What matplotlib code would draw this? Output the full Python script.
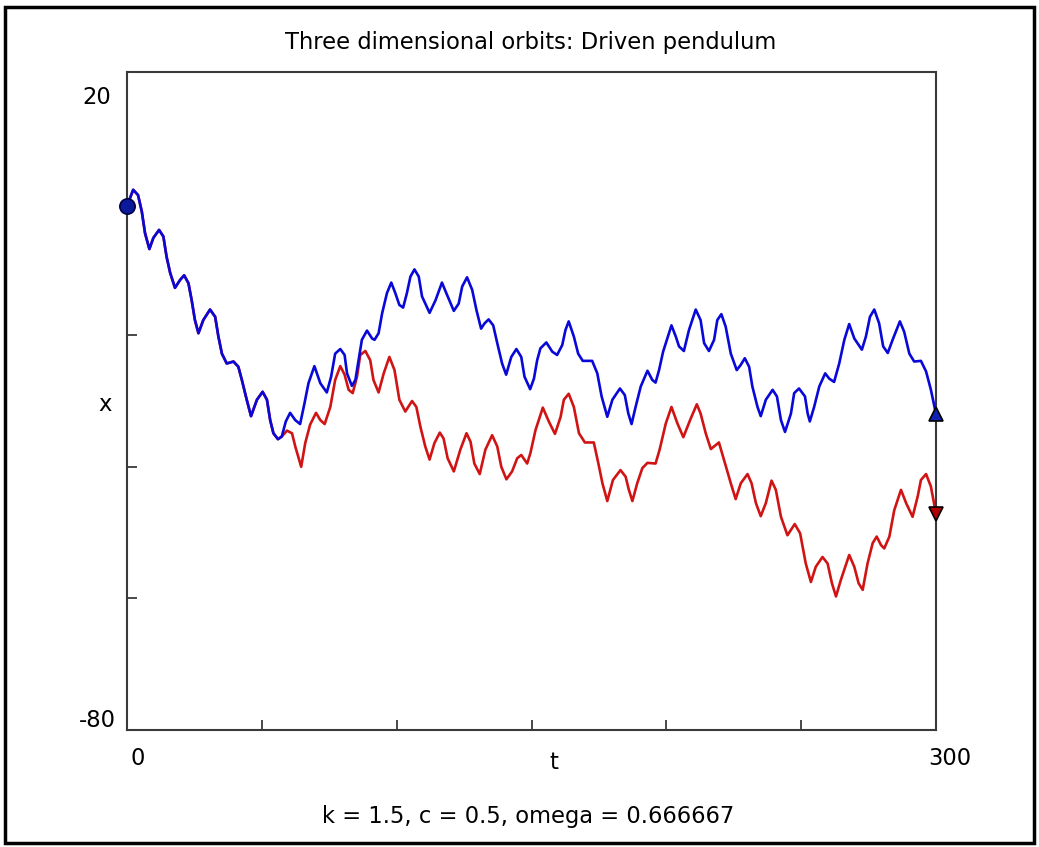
import matplotlib
matplotlib.use("Agg")
import matplotlib.pyplot as plt
from matplotlib.patches import Rectangle

# orbit values (t, x)
blue_t = [0.0, 2.3, 4.1, 5.5, 6.7, 8.3, 9.8, 11.9, 13.5, 14.7,
          16.0, 17.8, 19.7, 21.2, 22.8, 24.0, 25.2, 26.5, 28.3, 30.8,
          32.7, 33.9, 35.2, 37.0, 39.5, 41.3, 42.6, 44.4, 46.0, 48.2,
          50.3, 51.9, 53.1, 54.3, 56.0, 57.4, 58.9, 60.5, 62.4, 64.2,
          65.8, 67.3, 69.5, 71.7, 74.1, 75.7, 77.2, 79.1, 80.7, 81.6,
          83.4, 84.7, 85.9, 87.1, 89.0, 90.9, 91.8, 93.3, 94.6, 96.4,
          98.0, 99.5, 101.0, 102.4, 103.8, 105.1, 106.6, 108.2, 109.4, 112.2,
          114.4, 116.8, 118.4, 121.2, 123.0, 124.3, 126.1, 128.0, 129.6, 131.3,
          132.6, 134.1, 135.8, 137.3, 139.1, 140.6, 142.5, 144.4, 146.2, 147.4,
          149.5, 150.9, 152.1, 153.3, 155.5, 157.7, 159.5, 161.4, 162.6, 163.8,
          165.7, 167.3, 169.0, 172.5, 174.4, 176.0, 178.1, 180.0, 182.8, 184.6,
          185.9, 187.1, 188.6, 190.5, 193.0, 194.8, 196.0, 197.3, 198.8, 199.8,
          201.9, 203.5, 204.7, 206.5, 208.4, 210.9, 212.7, 214.0, 215.8, 217.7,
          218.9, 220.4, 222.0, 223.9, 226.1, 227.6, 229.1, 230.7, 231.9, 233.8,
          235.0, 236.9, 239.4, 241.0, 242.5, 244.0, 246.2, 247.4, 249.2, 251.4,
          252.4, 253.2, 254.8, 256.7, 258.9, 260.4, 262.2, 264.1, 266.0, 267.8,
          269.7, 272.5, 274.0, 275.5, 277.1, 278.9, 280.4, 282.1, 283.9, 286.6,
          288.2, 290.1, 291.9, 294.4, 296.3, 298.1, 300.0]
blue_x = [-0.4, 2.1, 1.3, -1.2, -4.5, -6.9, -5.2, -4.0, -5.0, -8.1,
          -10.5, -12.8, -11.6, -10.9, -12.1, -14.7, -17.7, -19.7, -17.7, -16.1,
          -17.2, -20.2, -22.8, -24.3, -24.0, -24.8, -26.8, -29.8, -32.3, -29.8,
          -28.6, -29.8, -32.9, -34.9, -35.8, -35.4, -33.1, -31.8, -32.9, -33.5,
          -30.4, -27.3, -24.7, -27.3, -28.7, -26.3, -22.8, -22.1, -23.0, -25.8,
          -27.7, -26.8, -23.8, -20.7, -19.3, -20.5, -20.7, -19.7, -16.7, -13.6,
          -12.0, -13.6, -15.4, -15.8, -13.6, -11.1, -10.0, -11.1, -14.1, -16.6,
          -14.7, -12.0, -13.6, -16.3, -15.2, -12.6, -11.2, -13.1, -16.2, -19.0,
          -18.2, -17.6, -18.5, -21.2, -24.3, -26.0, -23.3, -22.1, -23.3, -26.3,
          -28.2, -26.6, -23.8, -22.0, -21.1, -22.5, -23.0, -21.5, -19.2, -17.9,
          -20.2, -22.8, -23.9, -23.9, -25.8, -29.3, -32.4, -29.8, -28.1, -29.1,
          -31.9, -33.5, -30.9, -27.8, -25.4, -26.8, -27.2, -25.3, -22.5, -21.2,
          -18.5, -20.2, -21.7, -22.4, -19.2, -16.1, -17.7, -21.2, -22.4, -20.7,
          -17.7, -16.8, -18.7, -22.8, -25.3, -24.5, -23.5, -24.8, -27.8, -30.9,
          -32.3, -29.8, -28.3, -29.3, -32.9, -34.7, -31.9, -28.8, -28.1, -29.3,
          -31.9, -33.1, -30.9, -27.8, -25.8, -26.6, -27.1, -24.3, -20.7, -18.3,
          -20.5, -22.2, -20.2, -17.2, -16.1, -18.2, -21.7, -22.7, -20.7, -17.9,
          -19.5, -22.8, -24.0, -23.9, -25.5, -28.3, -32.0]

# second orbit follows the first until t ~ 57, then splits off
n_shared = 36
red_tail_t = [59.3, 61.2, 62.4, 64.6, 66.1, 67.9, 70.1, 71.7, 73.3, 75.4,
              77.2, 79.1, 80.7, 82.2, 83.7, 85.3, 86.5, 88.4, 90.2, 91.4,
              93.3, 95.2, 97.3, 99.2, 101.0, 103.2, 105.7, 107.3, 108.8, 110.6,
              112.2, 114.0, 116.0, 117.4, 118.9, 121.2, 123.6, 125.9, 127.4, 128.8,
              130.8, 132.9, 135.4, 137.3, 138.8, 140.7, 142.8, 144.7, 146.2, 148.4,
              149.6, 151.5, 154.2, 156.4, 158.7, 160.8, 162.0, 163.8, 165.7, 167.6,
              169.8, 173.1, 174.8, 176.3, 178.1, 180.2, 183.0, 184.9, 186.1, 187.4,
              189.2, 191.1, 193.0, 196.0, 197.5, 199.8, 201.9, 204.1, 206.3, 208.8,
              211.3, 212.7, 214.6, 216.5, 219.5, 221.4, 223.9, 225.7, 227.6, 230.1,
              231.6, 233.2, 235.0, 236.9, 239.0, 240.6, 242.5, 244.9, 247.6, 249.6,
              251.7, 253.6, 255.4, 257.9, 259.8, 261.4, 262.9, 264.7, 267.8, 269.7,
              271.3, 272.8, 274.6, 276.5, 278.0, 279.6, 280.8, 282.7, 284.5, 287.0,
              288.9, 291.3, 293.2, 294.4, 296.3, 298.1, 300.0]
red_tail_x = [-34.5, -34.9, -36.9, -40.0, -36.4, -33.6, -31.8, -32.9, -33.5, -30.9,
              -26.8, -24.7, -26.0, -28.3, -28.8, -26.3, -23.0, -22.4, -23.8, -26.8,
              -28.7, -25.8, -23.3, -25.3, -29.8, -31.6, -30.0, -30.9, -33.9, -36.9,
              -38.9, -36.4, -34.8, -35.7, -38.7, -40.7, -37.4, -34.9, -36.2, -39.5,
              -41.1, -37.4, -35.2, -36.9, -40.0, -41.9, -40.7, -38.7, -38.2, -39.5,
              -37.9, -34.4, -31.0, -33.1, -35.0, -32.4, -29.8, -28.9, -30.9, -34.9,
              -36.3, -36.3, -39.5, -42.5, -45.2, -42.0, -40.5, -41.5, -43.5, -45.2,
              -42.5, -40.2, -39.4, -39.5, -37.4, -33.4, -30.9, -33.4, -35.5, -32.9,
              -30.5, -31.9, -34.9, -37.3, -36.3, -39.0, -42.5, -44.9, -42.5, -41.1,
              -42.5, -45.5, -47.5, -45.5, -42.1, -43.5, -47.6, -50.4, -48.7, -50.1,
              -54.7, -57.5, -55.2, -53.7, -54.7, -57.7, -59.7, -57.2, -53.4, -55.2,
              -57.7, -58.7, -54.7, -51.6, -50.6, -51.9, -52.4, -50.6, -46.6, -43.5,
              -45.5, -47.6, -44.5, -42.0, -41.1, -43.0, -47.2]

red_t = blue_t[:n_shared] + red_tail_t
red_x = blue_x[:n_shared] + red_tail_x

t_range = (0, 300)
x_range = (-80, 20)
t_ticks = [50, 100, 150, 200, 250]
x_ticks = [-60, -40, -20]
title = "Three dimensional orbits: Driven pendulum"
subtitle = "k = 1.5, c = 0.5, omega = 0.666667"

BLUE = "#0808d8"
RED = "#d01414"
AXC = "#3a3a3a"
FS = 16.3

plt.rcParams["font.family"] = ["DejaVu Sans"]

fig = plt.figure(figsize=(10.39, 8.47), dpi=100)
ax = fig.add_axes([0.1222, 0.1381, 0.7787, 0.7769])

ax.plot(red_t, red_x, color=RED, lw=1.9, zorder=2)
ax.plot(blue_t, blue_x, color=BLUE, lw=1.9, zorder=3)
ax.plot(blue_t[0], blue_x[0], "o", ms=11, color="#0a1a9a", mec="#000044",
        mew=1.2, clip_on=False, zorder=5)
ax.plot(blue_t[-1], blue_x[-1], "^", ms=10, color="#1020b0", mec="black",
        mew=1.2, clip_on=False, zorder=5)
ax.plot(red_t[-1], red_x[-1], "v", ms=10, color="#b00000", mec="black",
        mew=1.2, clip_on=False, zorder=5)

ax.set_xlim(*t_range)
ax.set_ylim(*x_range)
ax.set_xticks(t_ticks)
ax.set_yticks(x_ticks)
ax.set_xticklabels([])
ax.set_yticklabels([])
ax.tick_params(direction="in", length=7, width=1.3, color=AXC)
for s in ax.spines.values():
    s.set_color(AXC)
    s.set_linewidth(1.5)

# axis end labels placed like the original
ax.text(-0.037, 0.962, "20", transform=ax.transAxes, ha="center", va="center", fontsize=FS)
ax.text(-0.037, 0.015, "-80", transform=ax.transAxes, ha="center", va="center", fontsize=FS)
ax.text(-0.027, 0.494, "x", transform=ax.transAxes, ha="center", va="center", fontsize=FS)
ax.text(0.0136, -0.043, "0", transform=ax.transAxes, ha="center", va="center", fontsize=FS)
ax.text(1.017, -0.043, "300", transform=ax.transAxes, ha="center", va="center", fontsize=FS)
ax.text(0.527, -0.049, "t", transform=ax.transAxes, ha="center", va="center", fontsize=FS)

fig.text(0.511, 0.950, title, ha="center", va="center", fontsize=FS)
fig.text(0.508, 0.036, subtitle, ha="center", va="center", fontsize=FS)

fig.patches.append(Rectangle((0.005, 0.005), 0.99, 0.987, transform=fig.transFigure,
                             fill=False, ec="black", lw=2.5))

fig.savefig("out.png", dpi=100)
